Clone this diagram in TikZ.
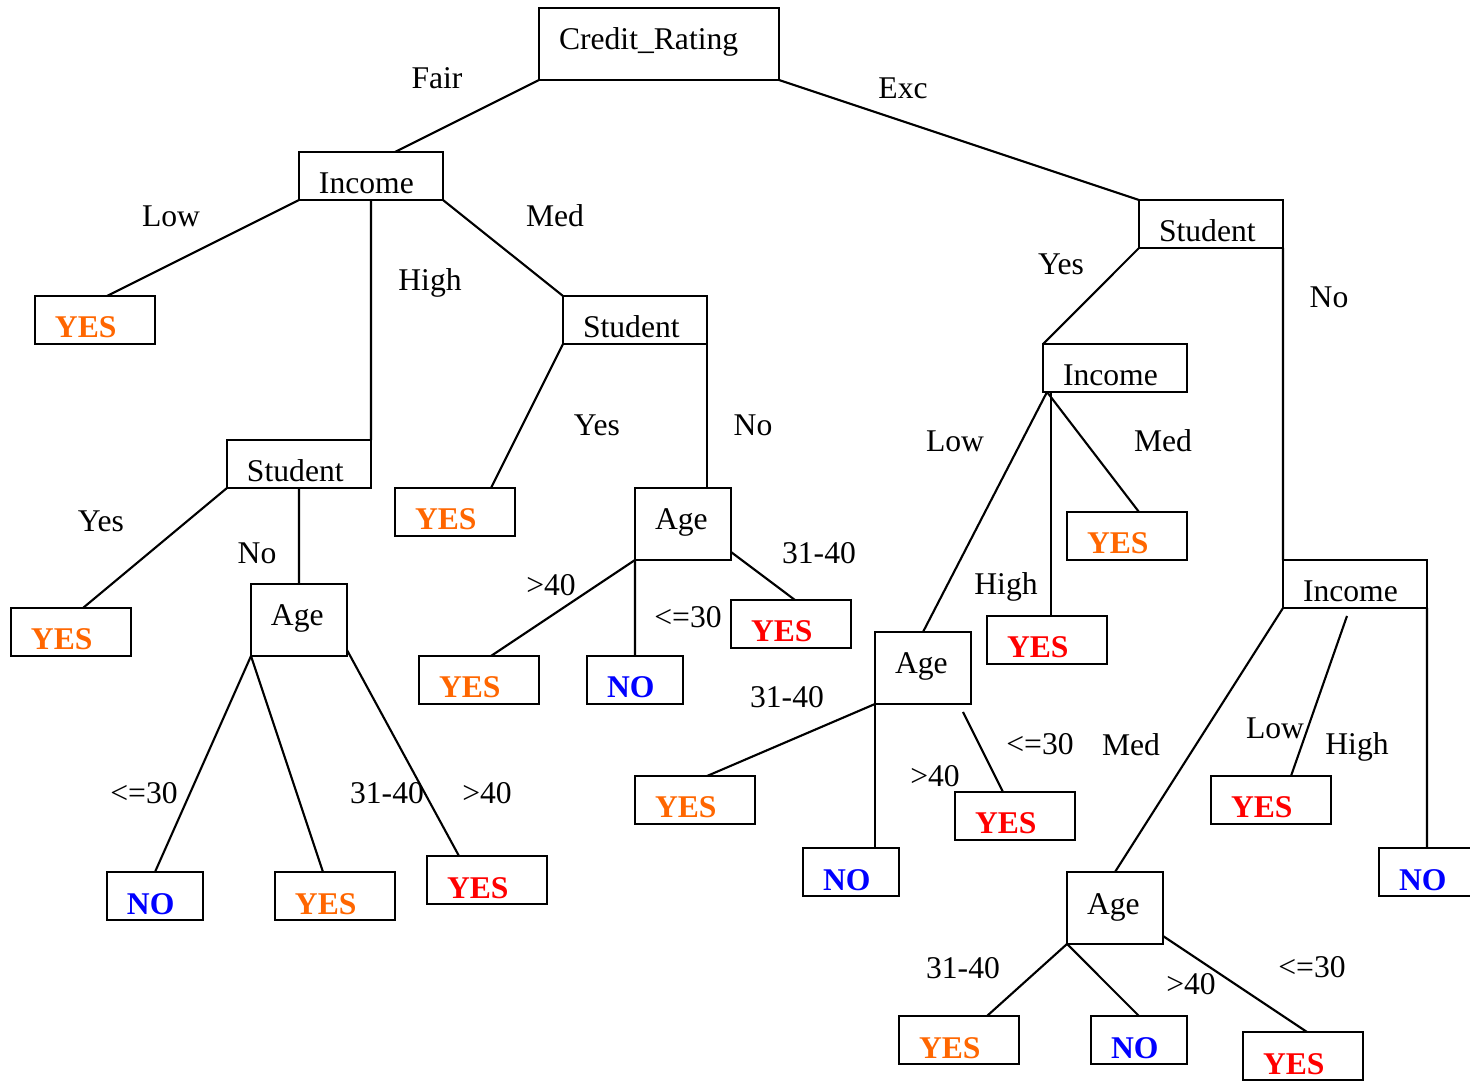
\documentclass[tikz,border=0pt]{standalone}
\usepackage{fontspec}
\setmainfont{Liberation Serif}
\definecolor{yesorange}{RGB}{255,102,0}
\definecolor{yesred}{RGB}{255,0,0}
\definecolor{noblue}{RGB}{0,0,255}
\tikzset{
  box/.style={draw, line width=1.2pt, anchor=north west, inner xsep=0.4cm, inner ysep=0pt, outer sep=0pt,
    text height=0.84cm, align=left, font=\fontsize{18}{20}\selectfont},
  wbox/.style={box, text width=4cm, text depth=0.6cm},
  tbox/.style={box, text width=2.08cm, text depth=0.12cm},
  abox/.style={box, text width=1.12cm, text depth=0.6cm},
  ybox/.style={box, text width=1.6cm, text depth=0.12cm, font=\fontsize{18}{20}\selectfont\bfseries},
  nbox/.style={box, text width=1.12cm, text depth=0.12cm, text=noblue, font=\fontsize{18}{20}\selectfont\bfseries},
  lbl/.style={anchor=base, font=\fontsize{18}{20}\selectfont},
  edge/.style={line width=1.2pt}
}
\begin{document}
\begin{tikzpicture}[x=0.02cm, y=-0.02cm]
  \useasboundingbox (0,0) rectangle (1470,1081);
  % root
  \node[wbox] (credit) at (539,8) {Credit\_Rating};
  % fair side
  \node[tbox] (incF) at (299,152) {Income};
  \node[ybox, text=yesorange] (yesFL) at (35,296) {YES};
  \node[tbox] (stuFM) at (563,296) {Student};
  \node[tbox] (stuFH) at (227,440) {Student};
  \node[ybox, text=yesorange] (yesFMY) at (395,488) {YES};
  \node[abox] (ageFM) at (635,488) {Age};
  \node[ybox, text=yesorange] (yesFHY) at (11,608) {YES};
  \node[abox] (ageFH) at (251,584) {Age};
  \node[ybox, text=yesred] (yesFM3) at (731,600) {YES};
  \node[ybox, text=yesorange] (yesFM4) at (419,656) {YES};
  \node[nbox] (noFM) at (587,656) {NO};
  \node[nbox] (noFH) at (107,872) {NO};
  \node[ybox, text=yesorange] (yesFH3) at (275,872) {YES};
  \node[ybox, text=yesred] (yesFH4) at (427,856) {YES};
  % excellent side
  \node[tbox] (stuE) at (1139,200) {Student};
  \node[tbox] (incEY) at (1043,344) {Income};
  \node[ybox, text=yesorange] (yesEYM) at (1067,512) {YES};
  \node[tbox] (incEN) at (1283,560) {Income};
  \node[ybox, text=yesred] (yesEYH) at (987,616) {YES};
  \node[abox] (ageEY) at (875,632) {Age};
  \node[ybox, text=yesorange] (yesEY3) at (635,776) {YES};
  \node[ybox, text=yesred] (yesENH) at (1211,776) {YES};
  \node[ybox, text=yesred] (yesEY2) at (955,792) {YES};
  \node[nbox] (noEY) at (803,848) {NO};
  \node[nbox] (noENM) at (1379,848) {NO};
  \node[abox] (ageEN) at (1067,872) {Age};
  \node[ybox, text=yesorange] (yesEN3) at (899,1016) {YES};
  \node[nbox] (noEN) at (1091,1016) {NO};
  \node[ybox, text=yesred] (yesEN2) at (1243,1032) {YES};

  % branches
  \draw[edge] (credit.south west) -- ([xshift=0.48cm]incF.north);
  \draw[edge] (credit.south east) -- (stuE.north west);
  \draw[edge] (incF.south west) -- ([xshift=0.24cm]yesFL.north);
  \draw[edge] (incF.south) -- (stuFH.north east);
  \draw[edge] (incF.south east) -- (stuFM.north west);
  \draw[edge] (stuFM.south west) -- ([xshift=0.72cm]yesFMY.north);
  \draw[edge] (stuFM.south east) -- (stuFM.south east |- ageFM.north);
  \draw[edge] (stuFH.south west) -- ([xshift=0.24cm]yesFHY.north);
  \draw[edge] (stuFH.south) -- (ageFH.north);
  \draw[edge] (ageFH.south west) -- (noFH.north);
  \draw[edge] (ageFH.south west) -- ([xshift=-0.24cm]yesFH3.north);
  \draw[edge] ([yshift=0.12cm]ageFH.south east) -- ([xshift=-0.56cm]yesFH4.north);
  \draw[edge] (ageFM.south west) -- ([xshift=0.24cm]yesFM4.north);
  \draw[edge] (ageFM.south west) -- (noFM.north);
  \draw[edge] ([yshift=0.16cm]ageFM.south east) -- ([xshift=0.08cm]yesFM3.north);
  \draw[edge] (stuE.south west) -- (incEY.north west);
  \draw[edge] (stuE.south east) -- (incEN.north west);
  \draw[edge] ([xshift=0.08cm]incEY.south west) -- (ageEY.north);
  \draw[edge] ([xshift=0.16cm]incEY.south west) -- ([xshift=0.16cm]incEY.south west |- yesEYH.north);
  \draw[edge] ([xshift=0.08cm]incEY.south west) -- ([xshift=0.24cm]yesEYM.north);
  \draw[edge] (ageEY.south west) -- ([xshift=0.24cm]yesEY3.north);
  \draw[edge] (ageEY.south west) -- (ageEY.south west |- noEY.north);
  \draw[edge] ([xshift=-0.16cm,yshift=-0.16cm]ageEY.south east) -- ([xshift=-0.24cm]yesEY2.north);
  \draw[edge] (incEN.south west) -- (ageEN.north);
  \draw[edge] ([xshift=-0.16cm,yshift=-0.16cm]incEN.south) -- ([xshift=0.4cm]yesENH.north);
  \draw[edge] (incEN.south east) -- (noENM.north);
  \draw[edge] (ageEN.south west) -- ([xshift=0.56cm]yesEN3.north);
  \draw[edge] (ageEN.south west) -- (noEN.north);
  \draw[edge] ([yshift=0.16cm]ageEN.south east) -- ([xshift=0.08cm]yesEN2.north);

  % branch labels
  \node[lbl] (lFair) at (437,89) {Fair};
  \node[lbl] (lExc) at (903,99) {Exc};
  \node[lbl] (lFLow) at (171,227) {Low};
  \node[lbl] (lFMed) at (555,227) {Med};
  \node[lbl] (lFHigh) at (430,290) {High};
  \node[lbl] (lEYes) at (1061,275) {Yes};
  \node[lbl] (lENo) at (1329,307) {No};
  \node[lbl] (lFMYes) at (597,435) {Yes};
  \node[lbl] (lFMNo) at (753,435) {No};
  \node[lbl] (lEYLow) at (955,451) {Low};
  \node[lbl] (lEYMed) at (1163,451) {Med};
  \node[lbl] (lFHYes) at (101,531) {Yes};
  \node[lbl] (lFHNo) at (257,563) {No};
  \node[lbl] (lFM3) at (819,563) {31-40};
  \node[lbl] (lFM4) at (551,595) {>40};
  \node[lbl] (lFM1) at (688,627) {<=30};
  \node[lbl] (lEYHigh) at (1006,594) {High};
  \node[lbl] (lEY3) at (787,707) {31-40};
  \node[lbl] (lFH1) at (144,803) {<=30};
  \node[lbl] (lFH3) at (387,803) {31-40};
  \node[lbl] (lFH4) at (487,803) {>40};
  \node[lbl] (lEY1) at (1040,754) {<=30};
  \node[lbl] (lENMed) at (1131,755) {Med};
  \node[lbl] (lEY4) at (935,786) {>40};
  \node[lbl] (lENLow) at (1275,738) {Low};
  \node[lbl] (lENHigh) at (1357,754) {High};
  \node[lbl] (lEN3) at (963,978) {31-40};
  \node[lbl] (lEN4) at (1191,994) {>40};
  \node[lbl] (lEN1) at (1312,977) {<=30};
\end{tikzpicture}
\end{document}
